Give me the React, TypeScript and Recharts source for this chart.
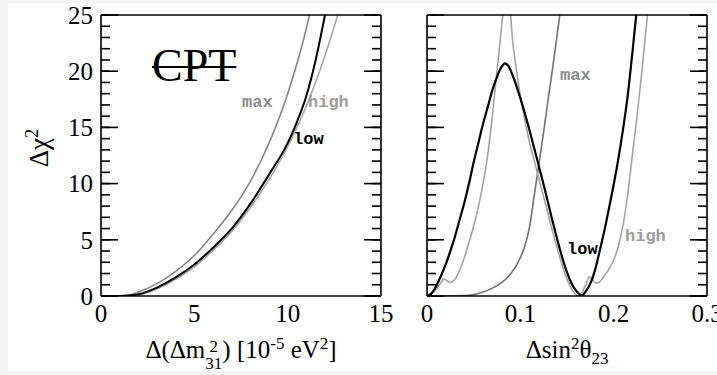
import React from 'react';
import { LineChart, Line, XAxis, YAxis } from 'recharts';

const SERIF = '"Liberation Serif", "Times New Roman", serif';
const MONO = '"Liberation Mono", "Courier New", monospace';

// left panel: delta chi^2 vs Δ(Δm²31) [1e-5 eV²]
const dmMaxX = [0, 1, 1.5, 2, 3, 4, 5, 6, 7, 8, 9, 10, 11, 11.5];
const dmMaxY = [0, 0, 0.08, 0.35, 1.1, 2.2, 3.6, 5.5, 7.6, 10.2, 13.6, 18.0, 23.8, 27.5];
const dmLowX = [0, 1, 1.5, 2, 3, 4, 5, 6, 7, 8, 9, 10, 10.5, 11, 11.5, 12, 12.3];
const dmLowY = [0, 0, 0.04, 0.15, 0.75, 1.65, 2.8, 4.3, 6.0, 8.2, 10.8, 13.6, 15.5, 17.8, 21.0, 25.0, 27.5];
const dmHighX = [0, 1, 1.5, 2, 3, 4, 5, 6, 7, 8, 9, 10, 11, 12, 12.5, 13];
const dmHighY = [0, 0, 0.03, 0.1, 0.62, 1.5, 2.6, 4.05, 5.75, 7.85, 10.35, 13.3, 16.9, 21.4, 24.0, 26.8];

// right panel: delta chi^2 vs Δsin²θ23
const thLowX = [0, 0.005, 0.01, 0.015, 0.02, 0.025, 0.03, 0.035, 0.04, 0.045, 0.05, 0.055, 0.06, 0.065, 0.07, 0.075, 0.08, 0.0835, 0.087, 0.09, 0.095, 0.1, 0.105, 0.11, 0.115, 0.12, 0.125, 0.13, 0.135, 0.14, 0.145, 0.15, 0.155, 0.16, 0.166, 0.17, 0.175, 0.18, 0.185, 0.19, 0.195, 0.2, 0.205, 0.21, 0.215, 0.22, 0.226];
const thLowY = [0, 0.25, 0.9, 1.8, 2.8, 4.0, 5.3, 6.8, 8.3, 10.0, 11.9, 13.6, 15.3, 16.8, 18.3, 19.5, 20.4, 20.7, 20.5, 20.0, 18.9, 17.6, 16.2, 14.7, 13.1, 11.5, 9.9, 8.2, 6.5, 4.9, 3.4, 2.1, 1.1, 0.45, 0.05, 0.4, 1.1, 2.3, 4.0, 5.8, 7.8, 9.9, 12.2, 14.8, 17.8, 21.6, 26.5];
const thMaxX = [0, 0.02, 0.04, 0.05, 0.06, 0.07, 0.08, 0.09, 0.1, 0.105, 0.11, 0.115, 0.12, 0.125, 0.13, 0.135, 0.14, 0.146];
const thMaxY = [0, 0, 0.03, 0.12, 0.35, 0.7, 1.2, 2.0, 3.4, 4.5, 6.2, 9.0, 11.8, 14.6, 17.6, 20.5, 23.6, 27.2];
const thHighX = [0, 0.005, 0.01, 0.015, 0.018, 0.021, 0.025, 0.03, 0.035, 0.04, 0.045, 0.05, 0.055, 0.06, 0.065, 0.07, 0.075, 0.08, 0.0835, 0.0855, 0.0875, 0.092, 0.095, 0.1, 0.105, 0.11, 0.115, 0.12, 0.125, 0.13, 0.135, 0.14, 0.145, 0.15, 0.155, 0.16, 0.163, 0.166, 0.17, 0.174, 0.177, 0.181, 0.185, 0.19, 0.195, 0.2, 0.205, 0.21, 0.215, 0.22, 0.225, 0.23, 0.238];
const thHighY = [0, 0.2, 0.6, 1.2, 1.5, 1.4, 1.2, 1.5, 2.3, 3.4, 4.8, 6.2, 7.9, 10.0, 12.5, 16.0, 20.0, 24.0, 27.0, 28.0, 27.0, 22.5, 20.6, 17.8, 15.6, 13.6, 12.0, 10.4, 8.8, 7.2, 5.6, 4.1, 2.7, 1.5, 0.6, 0.1, 0.05, 0.3, 1.0, 1.7, 1.5, 1.15, 1.25, 1.8, 2.4, 3.2, 4.4, 6.3, 9.0, 12.5, 16.0, 19.8, 26.5];

// ticks
const dmTicks = [0, 5, 10, 15];
const dmMinor = [0, 1, 2, 3, 4, 5, 6, 7, 8, 9, 10, 11, 12, 13, 14, 15];
const thTicks = [0, 0.1, 0.2, 0.3];
const thMinor = [0, 0.025, 0.05, 0.075, 0.1, 0.125, 0.15, 0.175, 0.2, 0.225, 0.25, 0.275, 0.3];
const chiTicks = [0, 5, 10, 15, 20, 25];
const chiMinor = [0, 1, 2, 3, 4, 5, 6, 7, 8, 9, 10, 11, 12, 13, 14, 15, 16, 17, 18, 19, 20, 21, 22, 23, 24, 25];

const zip = (xs: number[], ys: number[]) => xs.map((x, i) => ({ x, y: ys[i] }));

const FRAME = { stroke: '#000', strokeWidth: 1.6 };
const TICKFONT = { fontSize: 25, fill: '#000', fontFamily: SERIF };
const NoLabel = () => <g />;

// inward ticks on all four sides, drawn with mirrored axes
function frame(xDom: number[], xMaj: number[], xMin: number[]) {
  const common = { type: 'number' as const, allowDataOverflow: true, mirror: true, tick: NoLabel, interval: 0 as const };
  return [
    <XAxis key="bM" xAxisId="bM" {...common} domain={xDom} orientation="bottom" height={0.01} ticks={xMaj} tickSize={17} axisLine={FRAME} tickLine={FRAME} />,
    <XAxis key="bm" xAxisId="bm" {...common} domain={xDom} orientation="bottom" height={0.01} ticks={xMin} tickSize={9} axisLine={false} tickLine={FRAME} />,
    <XAxis key="tM" xAxisId="tM" {...common} domain={xDom} orientation="top" height={0.01} ticks={xMaj} tickSize={17} axisLine={FRAME} tickLine={FRAME} />,
    <XAxis key="tm" xAxisId="tm" {...common} domain={xDom} orientation="top" height={0.01} ticks={xMin} tickSize={9} axisLine={false} tickLine={FRAME} />,
    <YAxis key="lM" yAxisId="lM" {...common} domain={[0, 25]} orientation="left" width={0.01} ticks={chiTicks} tickSize={17} axisLine={FRAME} tickLine={FRAME} />,
    <YAxis key="lm" yAxisId="lm" {...common} domain={[0, 25]} orientation="left" width={0.01} ticks={chiMinor} tickSize={9} axisLine={false} tickLine={FRAME} />,
    <YAxis key="rM" yAxisId="rM" {...common} domain={[0, 25]} orientation="right" width={0.01} ticks={chiTicks} tickSize={17} axisLine={FRAME} tickLine={FRAME} />,
    <YAxis key="rm" yAxisId="rm" {...common} domain={[0, 25]} orientation="right" width={0.01} ticks={chiMinor} tickSize={9} axisLine={false} tickLine={FRAME} />,
  ];
}

const curveLabel = (text: string, left: number, top: number, color: string) => (
  <div style={{ position: 'absolute', left, top, fontFamily: MONO, fontWeight: 'bold', fontSize: 17, lineHeight: '16px', color }}>
    {text}
  </div>
);

const SUP = { fontSize: '0.68em', lineHeight: 0 };
const SUB = { fontSize: '0.68em', lineHeight: 0 };

// superscript sitting directly above a subscript
const stack = (up: string, down: string) => (
  <span style={{ display: 'inline-flex', flexDirection: 'column', fontSize: '0.68em', lineHeight: 1, verticalAlign: '0.38em' }}>
    <span>{up}</span>
    <span>{down}</span>
  </span>
);

export default function App() {
  return (
    <div style={{ position: 'absolute', left: 0, top: 0, width: 717, height: 375, background: '#f3f3f3', overflow: 'hidden' }}>
      <div style={{ position: 'absolute', left: 8, top: 3, width: 709, height: 368, background: '#fff' }} />

      <div style={{ position: 'absolute', left: 0, top: 0 }}>
        <LineChart width={400} height={375} margin={{ top: 15, right: 19, bottom: 39, left: 51 }}>
          <XAxis xAxisId="lab" type="number" dataKey="x" domain={[0, 15]} allowDataOverflow ticks={dmTicks} interval={0}
            axisLine={false} tickLine={false} tick={TICKFONT} height={40} />
          <YAxis yAxisId="lab" type="number" domain={[0, 25]} allowDataOverflow ticks={chiTicks} interval={0}
            axisLine={false} tickLine={false} tick={TICKFONT} width={50} />
          {frame([0, 15], dmTicks, dmMinor)}
          <Line xAxisId="lab" yAxisId="lab" data={zip(dmMaxX, dmMaxY)} dataKey="y" type="monotone" stroke="#858585" strokeWidth={1.6} dot={false} isAnimationActive={false} />
          <Line xAxisId="lab" yAxisId="lab" data={zip(dmHighX, dmHighY)} dataKey="y" type="monotone" stroke="#a6a6a6" strokeWidth={1.6} dot={false} isAnimationActive={false} />
          <Line xAxisId="lab" yAxisId="lab" data={zip(dmLowX, dmLowY)} dataKey="y" type="monotone" stroke="#000" strokeWidth={2} dot={false} isAnimationActive={false} />
        </LineChart>
      </div>

      <div style={{ position: 'absolute', left: 400, top: 0 }}>
        <LineChart width={317} height={375} margin={{ top: 15, right: 10, bottom: 39, left: 27 }}>
          <XAxis xAxisId="lab" type="number" dataKey="x" domain={[0, 0.3]} allowDataOverflow ticks={thTicks} interval={0}
            axisLine={false} tickLine={false} tick={TICKFONT} height={40} />
          {frame([0, 0.3], thTicks, thMinor)}
          <Line xAxisId="lab" yAxisId="lM" data={zip(thMaxX, thMaxY)} dataKey="y" type="monotone" stroke="#707070" strokeWidth={1.6} dot={false} isAnimationActive={false} />
          <Line xAxisId="lab" yAxisId="lM" data={zip(thHighX, thHighY)} dataKey="y" type="monotone" stroke="#a3a3a3" strokeWidth={1.6} dot={false} isAnimationActive={false} />
          <Line xAxisId="lab" yAxisId="lM" data={zip(thLowX, thLowY)} dataKey="y" type="monotone" stroke="#000" strokeWidth={2.2} dot={false} isAnimationActive={false} />
        </LineChart>
      </div>

      {/* annotations */}
      <div style={{ position: 'absolute', left: 152, top: 43, fontFamily: SERIF, fontSize: 46, lineHeight: 1, textDecoration: 'line-through', textDecorationThickness: 2 }}>CPT</div>
      {curveLabel('max', 242, 95, '#8a8a8a')}
      {curveLabel('high', 308, 95, '#9c9c9c')}
      {curveLabel('low', 293, 132, '#000')}
      {curveLabel('max', 560, 68, '#8a8a8a')}
      {curveLabel('high', 625, 229, '#9c9c9c')}
      {curveLabel('low', 567, 242, '#000')}

      <div style={{ position: 'absolute', left: 39, top: 148, transform: 'translate(-50%, -50%) rotate(-90deg)', fontFamily: SERIF, fontSize: 27, whiteSpace: 'nowrap', lineHeight: 1 }}>
        Δχ<sup style={SUP}>2</sup>
      </div>
      <div style={{ position: 'absolute', left: 101, width: 280, top: 337, textAlign: 'center', fontFamily: SERIF, fontSize: 25, whiteSpace: 'nowrap', lineHeight: 1 }}>
        Δ(Δm{stack('2', '31')}) [10<sup style={SUP}>-5</sup> eV<sup style={SUP}>2</sup>]
      </div>
      <div style={{ position: 'absolute', left: 427, width: 280, top: 337, textAlign: 'center', fontFamily: SERIF, fontSize: 25, whiteSpace: 'nowrap', lineHeight: 1 }}>
        Δsin<sup style={SUP}>2</sup>θ<sub style={SUB}>23</sub>
      </div>
    </div>
  );
}
